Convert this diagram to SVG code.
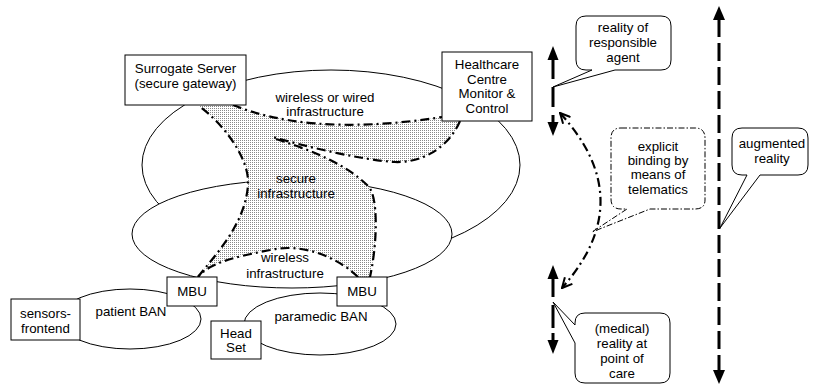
<svg xmlns="http://www.w3.org/2000/svg" width="816" height="385" viewBox="0 0 816 385">
<defs>
<style>
text{font-family:"Liberation Sans",Arial,sans-serif;font-size:13.3px;fill:#000;text-anchor:middle}
.box{fill:#fff;stroke:#000;stroke-width:1}
.ell{fill:#fff;stroke:#000;stroke-width:1}
.dd{fill:none;stroke:#000;stroke-width:2.2;stroke-dasharray:9 4 2 4}
.bold{stroke:#000;stroke-width:3;fill:none}
.call{fill:#fff;stroke:#000;stroke-width:1}
.calldd{fill:#fff;stroke:#000;stroke-width:1;stroke-dasharray:6 2 1.5 2}
</style>
<pattern id="dots" width="2" height="2" patternUnits="userSpaceOnUse">
<rect width="2" height="2" fill="#fff"/>
<rect width="1" height="1" fill="#888"/>
</pattern>
<marker id="vhead" viewBox="0 0 12 12" refX="11" refY="6" markerWidth="12" markerHeight="12" markerUnits="userSpaceOnUse" orient="auto-start-reverse">
<path d="M1,1 L11,6 L1,11" fill="none" stroke="#000" stroke-width="2"/>
</marker>
</defs>

<g id="networks">
<ellipse id="wired-infra" class="ell" cx="331" cy="165" rx="189" ry="95"/>
<ellipse id="wireless-infra" class="ell" cx="292" cy="234" rx="160" ry="54"/>
<ellipse id="patient-ban" class="ell" cx="130" cy="319" rx="71" ry="30"/>
<ellipse id="paramedic-ban" class="ell" cx="320" cy="324" rx="76" ry="31"/>
</g>

<g id="secure-infrastructure">
<path fill="url(#dots)" stroke="none" d="M233,105 C275,122 340,133 442,117 L442,121 L460,121 C450,145 425,163 395,162 C360,160 300,145 273,137 L276,139 C310,150 345,163 368,186 C378,195 378,240 370,277 L358,277 C335,255 300,243 270,250 C240,256 210,262 198,277 C215,255 245,225 248,185 C250,160 225,125 199,106 Z"/>
<path class="dd" d="M233,105 C275,122 340,133 442,117"/>
<path class="dd" d="M460,121 C450,145 425,163 395,162 C360,160 300,145 273,137"/>
<path class="dd" d="M276,139 C310,150 345,163 368,186 C378,195 378,240 370,277"/>
<path class="dd" d="M358,277 C335,255 300,243 270,250 C240,256 210,262 198,277"/>
<path class="dd" d="M198,277 C215,255 245,225 248,185 C250,160 225,125 199,106"/>
</g>

<g id="network-labels">
<text x="325" y="102">wireless or wired</text>
<text x="325" y="116">infrastructure</text>
<text x="296" y="182.5">secure</text>
<text x="296" y="197.5">infrastructure</text>
<text x="285" y="261.5">wireless</text>
<text x="285" y="277.5">infrastructure</text>
<text x="131" y="316">patient BAN</text>
<text x="321" y="321">paramedic BAN</text>
</g>

<g id="surrogate-server">
<rect class="box" x="125" y="55" width="121" height="50"/>
<text x="185.5" y="73">Surrogate Server</text>
<text x="185.5" y="87.5">(secure gateway)</text>
</g>

<g id="healthcare-centre">
<rect class="box" x="442" y="52" width="90" height="69"/>
<text x="487" y="69">Healthcare</text>
<text x="487" y="83.5">Centre</text>
<text x="487" y="98">Monitor &amp;</text>
<text x="487" y="112.5">Control</text>
</g>

<g id="mbu-1">
<rect class="box" x="167" y="277" width="50" height="29"/>
<text x="192" y="296">MBU</text>
</g>

<g id="mbu-2">
<rect class="box" x="337" y="277" width="50" height="29"/>
<text x="362" y="296">MBU</text>
</g>

<g id="sensors-frontend">
<rect class="box" x="11" y="299" width="69" height="41"/>
<text x="45.5" y="317.5">sensors-</text>
<text x="45.5" y="332.5">frontend</text>
</g>

<g id="head-set">
<rect class="box" x="211" y="321" width="50" height="38"/>
<text x="236" y="337.5">Head</text>
<text x="236" y="351.5">Set</text>
</g>

<g id="connectors">
<g id="agent-axis">
<line class="bold" x1="553" y1="58" x2="553" y2="79"/>
<line class="bold" x1="553" y1="87" x2="553" y2="107"/>
<line class="bold" x1="553" y1="115" x2="553" y2="125"/>
<polygon points="553,46 547.5,60 558.5,60" fill="#000"/>
<polygon points="553,136 547.5,122 558.5,122" fill="#000"/>
</g>
<g id="care-axis">
<line class="bold" x1="553" y1="276" x2="553" y2="297"/>
<line class="bold" x1="553" y1="305" x2="553" y2="328"/>
<line class="bold" x1="553" y1="333" x2="553" y2="343"/>
<polygon points="553,265 547.5,279 558.5,279" fill="#000"/>
<polygon points="553,354 547.5,340 558.5,340" fill="#000"/>
</g>
<g id="augmented-axis">
<line x1="719" y1="19" x2="719" y2="373" stroke="#000" stroke-width="3" stroke-dasharray="18 6"/>
<polygon points="719,6 713,20 725,20" fill="#000"/>
<polygon points="719,384 713,370 725,370" fill="#000"/>
</g>
<path id="binding" class="dd" d="M560,113 Q640,200 562,288" marker-start="url(#vhead)" marker-end="url(#vhead)"/>
</g>

<g id="callout-agent">
<path class="call" d="M586,16 H661 Q671,16 671,26 V60 Q671,70 661,70 H615 L553,87 L592,70 H586 Q576,70 576,60 V26 Q576,16 586,16 Z"/>
<text x="623" y="31.5">reality of</text>
<text x="623" y="46.5">responsible</text>
<text x="623" y="61.5">agent</text>
</g>

<g id="callout-binding">
<path class="calldd" d="M621,128 H695 Q705,128 705,138 V200 Q705,209 695,209 H650 L592,232 L627,209 H621 Q611,209 611,199 V138 Q611,128 621,128 Z"/>
<text x="658" y="150.5">explicit</text>
<text x="658" y="164.5">binding by</text>
<text x="658" y="178.5">means of</text>
<text x="658" y="193.5">telematics</text>
</g>

<g id="callout-augmented">
<path class="call" d="M742,128 H798 Q808,128 808,138 V165 Q808,175 798,175 H760 L720,228 L747,175 H742 Q732,175 732,165 V138 Q732,128 742,128 Z"/>
<text x="772" y="147.5">augmented</text>
<text x="772" y="162.5">reality</text>
</g>

<g id="callout-care">
<path class="call" d="M585,313 H660 Q670,313 670,323 V373 Q670,383 660,383 H585 Q575,383 575,373 V343 L553,302 L575,325 V323 Q575,313 585,313 Z"/>
<text x="622" y="332.5">(medical)</text>
<text x="622" y="347.5">reality at</text>
<text x="622" y="362.5">point of</text>
<text x="622" y="377.5">care</text>
</g>
</svg>
